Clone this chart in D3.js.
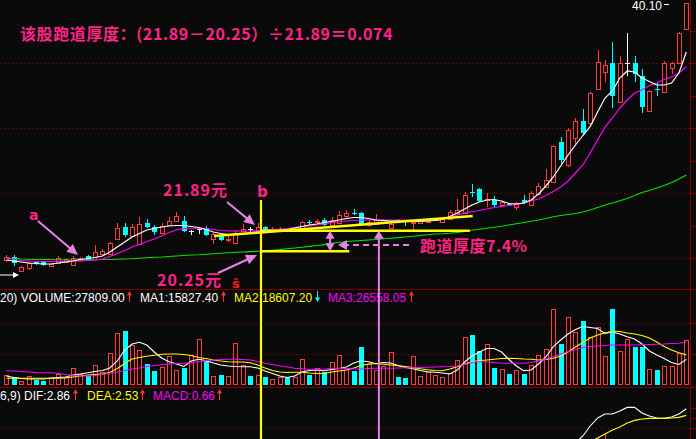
<!DOCTYPE html>
<html><head><meta charset="utf-8">
<script src="https://cdn.jsdelivr.net/npm/d3@7/dist/d3.min.js"></script>
<style>
html,body{margin:0;padding:0;background:#0a0a0a;overflow:hidden}
svg{display:block}
</style></head>
<body>
<svg id="chart" width="696" height="439"></svg>
<script>
// ---------------- data ----------------
const opens = [19.54,19.82,18.66,18.90,19.38,19.38,19.06,19.30,19.38,19.14,
19.62,19.86,19.78,20.02,20.02,21.22,22.18,21.46,20.86,22.50,
22.18,21.70,22.34,22.66,22.66,21.86,22.06,22.14,21.22,21.54,
21.18,20.90,21.82,22.02,21.78,22.18,21.96,22.00,21.96,21.86,
21.94,22.60,22.62,22.74,22.38,22.54,23.06,23.34,23.30,22.38,
22.42,22.58,22.14,22.70,22.68,22.56,22.50,22.66,22.76,22.62,
22.86,23.32,23.28,24.96,25.22,24.36,24.34,23.94,24.06,23.80,
24.34,23.94,24.82,25.40,25.80,29.00,27.14,29.32,30.66,30.48,
33.20,34.60,35.32,32.16,35.32,35.32,34.26,31.46,33.22,33.00,
34.88,35.28,38.00];
const highs = [19.94,19.94,19.06,19.38,19.46,19.46,19.30,19.86,19.70,19.86,
19.78,19.94,20.74,20.42,20.98,22.54,22.50,22.42,22.98,22.86,
22.34,22.54,23.02,23.38,23.06,21.98,22.22,22.26,21.78,21.62,
21.46,21.86,22.42,22.18,22.50,22.26,22.18,22.18,22.02,22.10,
22.66,22.78,22.86,22.90,23.02,23.46,23.54,23.62,23.42,22.74,
23.22,22.82,22.58,22.82,22.78,22.66,22.82,22.82,22.86,22.98,
23.54,24.46,25.00,25.62,25.34,24.90,24.66,24.26,24.10,24.20,
24.74,25.06,25.70,26.80,28.74,29.40,30.10,30.90,31.62,32.98,
36.34,35.54,37.00,35.86,37.72,35.86,34.82,33.14,33.80,35.46,
35.38,37.76,40.10];
const lows = [19.38,19.06,18.58,18.74,19.14,19.06,18.98,19.22,19.30,19.06,
19.46,19.50,19.70,19.94,19.94,21.14,21.38,21.38,20.82,22.10,
21.54,21.62,22.26,22.58,21.78,21.54,21.62,21.46,20.82,21.06,
20.98,20.82,21.78,21.78,21.70,21.78,21.82,21.86,21.78,21.78,
21.86,22.34,22.42,22.26,22.34,22.50,22.90,23.14,22.30,22.18,
22.38,22.50,22.10,22.50,22.26,21.82,22.42,22.50,22.66,22.58,
22.82,23.14,23.22,24.58,24.18,23.80,23.78,23.86,23.86,23.54,
24.02,23.90,24.78,25.38,25.78,27.14,27.01,28.66,29.54,30.26,
33.14,33.80,31.70,32.10,34.26,33.80,31.34,31.38,32.68,32.98,
34.42,35.22,37.94];
const closes = [19.78,19.26,18.98,19.30,19.22,19.10,19.22,19.70,19.62,19.70,
19.70,19.54,20.18,20.30,20.90,22.10,21.54,22.22,22.42,22.18,
21.78,22.30,22.66,23.10,21.86,21.86,22.06,21.54,21.62,21.14,
21.22,21.74,22.06,22.02,22.22,21.86,22.00,22.04,21.94,22.02,
22.58,22.58,22.66,22.34,22.78,23.14,23.30,23.32,22.34,22.62,
22.74,22.74,22.46,22.68,22.64,22.60,22.74,22.68,22.80,22.86,
23.42,23.58,24.74,24.94,24.26,24.40,23.94,24.18,23.94,24.12,
24.08,24.88,25.46,25.94,28.66,27.54,29.94,30.66,29.68,32.88,
35.40,35.14,32.68,35.32,35.32,34.42,31.80,33.08,33.20,35.32,
35.28,37.68,40.08];
const volumes = [6180,4760,2470,5560,3090,2660,4140,6800,4760,10320,
6800,5560,12360,8220,19960,32320,33560,24720,21630,12980,
8840,11310,17920,9270,10690,18540,28240,15020,5560,6180,
5560,25770,12360,5560,6180,4760,3520,4760,4760,4760,
15880,6180,10320,8220,14400,18540,10320,8840,23670,12980,
9270,11740,20210,4760,4140,17920,5560,8220,6180,4760,
7230,15450,29480,30900,21200,25340,10320,9700,6800,9270,
6800,12360,18540,22060,46780,25340,41840,32570,39550,29480,
35660,17920,46970,21010,28240,23670,23670,9890,9270,11740,
11740,19960,27809];
const ma5 = [19.54,19.46,19.38,19.30,19.26,19.22,19.22,19.30,19.38,19.46,
19.58,19.66,19.74,19.86,20.18,20.58,20.98,21.38,21.66,21.94,
22.06,22.18,22.26,22.30,22.30,22.22,22.14,21.98,21.78,21.66,
21.58,21.58,21.62,21.70,21.78,21.82,21.86,21.90,21.98,22.10,
22.22,22.34,22.42,22.54,22.62,22.74,22.86,22.94,22.94,22.86,
22.74,22.70,22.66,22.66,22.62,22.62,22.62,22.66,22.70,22.78,
23.02,23.30,23.62,23.94,24.18,24.34,24.38,24.26,24.06,24.02,
24.10,24.34,24.82,25.46,26.18,27.06,27.94,28.74,29.50,30.22,
31.38,32.50,33.06,34.10,34.66,34.58,34.10,33.82,33.54,33.54,
33.70,34.50,36.18];
const ma10 = [19.74,19.58,19.50,19.46,19.42,19.42,19.42,19.42,19.42,19.46,
19.46,19.50,19.54,19.62,19.82,20.06,20.30,20.58,20.78,21.02,
21.22,21.46,21.74,21.94,22.06,22.08,22.08,22.06,21.98,21.90,
21.86,21.86,21.86,21.86,21.90,21.94,21.98,22.02,22.06,22.14,
22.22,22.26,22.34,22.42,22.54,22.60,22.66,22.70,22.74,22.74,
22.74,22.74,22.74,22.74,22.74,22.74,22.74,22.74,22.74,22.78,
22.94,23.14,23.30,23.40,23.50,23.62,23.74,23.82,23.90,23.98,
24.10,24.26,24.42,24.70,25.02,25.38,25.86,26.50,27.14,28.10,
29.14,30.18,30.90,31.70,32.34,32.90,33.14,33.50,33.70,33.98,
34.18,34.50,35.00];
const ma60 = [19.68,19.66,19.62,19.60,19.58,19.58,19.58,19.56,19.54,19.54,
19.54,19.54,19.56,19.58,19.58,19.60,19.62,19.64,19.68,19.72,
19.76,19.78,19.82,19.86,19.90,19.94,19.96,20.00,20.04,20.08,
20.12,20.16,20.18,20.21,20.24,20.28,20.32,20.37,20.44,20.50,
20.56,20.63,20.70,20.77,20.88,20.94,21.02,21.06,21.10,21.14,
21.18,21.24,21.28,21.33,21.38,21.44,21.50,21.56,21.62,21.64,
21.68,21.74,21.82,21.92,22.00,22.08,22.16,22.24,22.34,22.44,
22.54,22.64,22.74,22.86,23.00,23.10,23.18,23.26,23.38,23.54,
23.74,23.94,24.10,24.28,24.46,24.70,24.94,25.10,25.30,25.50,
25.74,26.02,26.34];
const vma5 = [5560,4640,4020,3710,3710,3710,4330,4640,4940,6180,
6800,7600,8340,8960,10510,14830,21630,25340,26390,24720,
20390,16690,14400,12980,11430,14830,15880,15140,13600,12360,
11740,11430,11310,11310,10510,8650,7110,5560,4640,5560,
8030,8960,9270,8840,9580,10200,11120,13600,15020,14400,
13160,13910,13600,12050,10820,10070,8960,8220,7850,7420,
6800,9270,14210,17920,20390,22560,22560,20390,15760,11740,
8840,9270,12980,17300,23670,27810,31520,34300,36150,35540,
34920,31830,32750,31520,29850,28430,25340,21010,18540,16380,
13910,12670,15827.4];
const vma10 = [4140,4140,4140,4140,4140,4140,4140,4140,4330,4940,
5560,6180,6490,6800,7730,10200,13290,16070,17000,17740,
18420,18970,19160,19160,18850,18230,17000,16380,15450,14830,
14400,14210,14210,13780,12360,10510,8960,8030,7730,7850,
7910,7420,7110,7110,8030,8650,9270,10510,12050,12980,
13290,12790,12360,11930,11430,10820,10070,9460,8960,8840,
9890,11310,12980,14400,15140,15450,15940,16380,16500,16380,
16070,15880,15450,15760,16500,17920,20390,23480,26270,29050,
30900,32140,33370,33060,32140,31520,30590,29050,26570,23790,
21630,19960,18607.2];
const vma20 = [8840,8650,8340,8030,7730,7600,7600,7110,6490,5870,
5560,5560,5870,6490,7230,8030,8960,9890,10510,11430,
12050,12550,12980,13290,13410,13910,14400,15140,15450,15760,
15880,15880,15760,15450,14520,13410,12670,11740,11120,10320,
10010,9700,9700,9890,10200,10320,10200,9890,9890,10200,
10320,10320,10320,10510,10630,10690,10820,11000,11120,11310,
11430,11740,12670,13910,14400,14400,13910,13410,13410,13410,
13410,13910,14830,16070,17610,19160,20580,21940,23180,23790,
24100,24410,24720,24720,24720,24720,24840,25030,25150,25340,
25650,25830,26558.05];
const macdStart = 76;
const dif  = [0.80,1.15,1.50,2.00,2.40,2.60,2.60,2.75,2.93,2.93,2.65,2.50,2.40,2.38,2.45,2.60,2.86];
const dea  = [0.50,0.70,0.95,1.20,1.40,1.60,1.80,1.95,2.15,2.28,2.35,2.38,2.38,2.38,2.40,2.43,2.53];
const macd = [0.60,0.90,1.10,1.30,1.45,1.65,1.30,1.20,1.10,0.90,0.60,0.25,0.05,0.00,0.10,0.35,0.66];
const priceGrid = [19.70,24.90,30.10,35.30];
const priceTicks = [19.70,22.30,24.90,27.50,30.10,32.70,35.30,37.90];
const volGrid = [19300,38600];
const macdGrid = [1.9];
const macdTicks = [1.9,2.4,2.9];
const runwayTop = 21.89, runwayBottom = 20.25, highLabel = "40.10";
const titleText = "该股跑道厚度：(21.89－20.25）÷21.89＝0.074";
const volHeader = [["20) VOLUME:27809.00","#ffffff"],["MA1:15827.40","#ffffff"],["MA2:18607.20","#ffff00"],["MA3:26558.05","#ff00ff"]];
const volHeaderX = [0,140,234,328];
const volArrows = [[129,"up","#ff3030"],[223,"up","#ff3030"],[317,"down","#00ffff"],[411,"up","#ff3030"]];
const macdHeader = [["6,9) DIF:2.86","#ffffff"],["DEA:2.53","#ffff00"],["MACD:0.66","#ff00ff"]];
const macdHeaderX = [0,87,153];
const macdArrows = [[75,"up","#ff3030"],[142,"up","#ff3030"],[219,"up","#ff3030"]];

// ---------------- drawing ----------------
const svg = d3.select('#chart');
svg.append('rect').attr('width',696).attr('height',439).attr('fill','#0a0a0a');
const N = opens.length, idx = d3.range(N);
const x = d3.scaleLinear().domain([0, N-1]).range([6.4, 686.3]);
const y = d3.scaleLinear().domain([17.22, 40.34]).range([289, 0]);
const yv = d3.scaleLinear().domain([0, 50000]).range([385, 304.1]);
const ym = d3.scaleLinear().domain([0, 3]).range([466, 406]);
const RED='#ff3c3c', CYAN='#00ffff', WHITE='#ffffff', MAG='#ff00ff', YEL='#ffff00', GRN='#00e600', GRID='#a00000', AXIS='#800000';
const hp = v => Math.round(v)+0.5;

const g0 = svg.append('g').attr('shape-rendering','crispEdges');
function hdot(yy){ g0.append('line').attr('x1',0).attr('x2',689).attr('y1',hp(yy)).attr('y2',hp(yy)).attr('stroke',GRID).attr('stroke-dasharray','1,3'); }
priceGrid.forEach(v=>hdot(y(v)));
volGrid.forEach(v=>hdot(yv(v)));
macdGrid.forEach(v=>hdot(ym(v)));
[289,387].forEach(yy=>g0.append('line').attr('x1',0).attr('x2',696).attr('y1',yy+0.5).attr('y2',yy+0.5).attr('stroke',AXIS));
g0.append('line').attr('x1',690.5).attr('x2',690.5).attr('y1',0).attr('y2',439).attr('stroke',AXIS);
function ticks(scale, vals){
  const a = svg.append('g').attr('transform','translate(690.5,0)').attr('shape-rendering','crispEdges')
    .call(d3.axisRight(scale).tickValues(vals).tickFormat('').tickSize(5).tickSizeOuter(0));
  a.select('.domain').remove();
  a.selectAll('line').attr('stroke',AXIS);
}
ticks(y, priceTicks); ticks(yv, volGrid); ticks(ym, macdTicks);

// volume bars
const dir = i => closes[i]>opens[i]?1:(closes[i]<opens[i]?-1:0);
const volUp = i => dir(i)>0 || (dir(i)===0 && (i===0 || closes[i]>=closes[i-1]));
const gv = svg.append('g').attr('shape-rendering','crispEdges');
idx.forEach(i=>{
  const c = Math.round(x(i)), top = Math.round(yv(volumes[i])), base = Math.round(yv(0));
  if(volUp(i)) gv.append('rect').attr('x',c-2+0.5).attr('y',top+0.5).attr('width',4).attr('height',Math.max(base-top-1,1)).attr('fill','none').attr('stroke',RED);
  else gv.append('rect').attr('x',c-2).attr('y',top).attr('width',5).attr('height',base-top).attr('fill',CYAN);
});
const lineV = d3.line().x((d,i)=>x(i)).y(d=>yv(d));
[[vma5,WHITE],[vma10,YEL],[vma20,MAG]].forEach(([a,c])=>svg.append('path').attr('d',lineV(a)).attr('fill','none').attr('stroke',c).attr('stroke-width',1.1));

// MACD
const gm = svg.append('g').attr('shape-rendering','crispEdges');
macd.forEach((v,k)=>{ const c=Math.round(x(macdStart+k));
  gm.append('line').attr('x1',c+0.5).attr('x2',c+0.5).attr('y1',ym(0)).attr('y2',ym(v)).attr('stroke',v>=0?RED:CYAN); });
const lineM = d3.line().x((d,k)=>x(macdStart+k)).y(d=>ym(d));
svg.append('path').attr('d',lineM(dif)).attr('fill','none').attr('stroke',WHITE).attr('stroke-width',1.1);
svg.append('path').attr('d',lineM(dea)).attr('fill','none').attr('stroke',YEL).attr('stroke-width',1.1);

// candles
const gc = svg.append('g').attr('shape-rendering','crispEdges');
idx.forEach(i=>{
  const c = Math.round(x(i)), d = dir(i);
  const yH = Math.round(y(highs[i])), yL = Math.round(y(lows[i]));
  const yO = Math.round(y(opens[i])), yC = Math.round(y(closes[i]));
  if(d>0){
    gc.append('line').attr('x1',c+0.5).attr('x2',c+0.5).attr('y1',yH).attr('y2',yC).attr('stroke',RED);
    gc.append('line').attr('x1',c+0.5).attr('x2',c+0.5).attr('y1',yO).attr('y2',yL).attr('stroke',RED);
    gc.append('rect').attr('x',c-2+0.5).attr('y',yC+0.5).attr('width',4).attr('height',Math.max(yO-yC,1)).attr('fill','#0a0a0a').attr('stroke',RED);
  } else if(d<0){
    gc.append('line').attr('x1',c+0.5).attr('x2',c+0.5).attr('y1',yH).attr('y2',yL).attr('stroke',CYAN);
    gc.append('rect').attr('x',c-2).attr('y',yO).attr('width',5).attr('height',Math.max(yC-yO,1)).attr('fill',CYAN);
  } else {
    gc.append('line').attr('x1',c+0.5).attr('x2',c+0.5).attr('y1',yH).attr('y2',yL).attr('stroke',WHITE);
    gc.append('line').attr('x1',c-2).attr('x2',c+3).attr('y1',yO+0.5).attr('y2',yO+0.5).attr('stroke',WHITE);
  }
});
const lineP = d3.line().x((d,i)=>x(i)).y(d=>y(d));
[[ma60,GRN],[ma10,MAG],[ma5,WHITE]].forEach(([a,c])=>svg.append('path').attr('d',lineP(a)).attr('fill','none').attr('stroke',c).attr('stroke-width',1.2));

// header texts
const FONT = "'Liberation Sans', Arial, sans-serif";
function hArrow(ax, base, kind, color){
  const top = base-10.5, bot = base+0.5, cx = ax+0.5;
  const g = svg.append('g');
  if(kind==="up"){
    g.append('line').attr('x1',cx).attr('x2',cx).attr('y1',top+3).attr('y2',bot).attr('stroke',color).attr('stroke-width',1);
    g.append('path').attr('d',`M${cx},${top}L${cx-2.5},${top+4.5}L${cx+2.5},${top+4.5}Z`).attr('fill',color);
  } else {
    g.append('line').attr('x1',cx).attr('x2',cx).attr('y1',top).attr('y2',bot-3).attr('stroke',color).attr('stroke-width',1);
    g.append('path').attr('d',`M${cx},${bot}L${cx-2.5},${bot-4.5}L${cx+2.5},${bot-4.5}Z`).attr('fill',color);
  }
}
volHeader.forEach(([t,c],k)=>svg.append('text').attr('x',volHeaderX[k]).attr('y',301.5).attr('fill',c).attr('font-family',FONT).attr('font-size',12).text(t));
volArrows.forEach(([ax,kind,c])=>hArrow(ax,301.5,kind,c));
macdHeader.forEach(([t,c],k)=>svg.append('text').attr('x',macdHeaderX[k]).attr('y',399.5).attr('fill',c).attr('font-family',FONT).attr('font-size',12).text(t));
macdArrows.forEach(([ax,kind,c])=>hArrow(ax,399.5,kind,c));
svg.append('text').attr('x',632).attr('y',10).attr('fill',WHITE).attr('font-family',FONT).attr('font-size',12).text(highLabel);
svg.append('line').attr('x1',664).attr('x2',669).attr('y1',4.5).attr('y2',4.5).attr('stroke',WHITE);

// ---------------- annotations ----------------
const ANN='#e682e6', TXT='#ff2288', YLW='#ffff00';
const CJK = "'Noto Sans CJK SC', sans-serif";
const ga = svg.append('g');
const bIdx = 34.45, pinkIdx = 50.4, dblIdx = 43.8, upperEnd = 62.7, lowerEnd = 46.4;
ga.append('line').attr('x1',x(28.1)).attr('y1',y(21.46)).attr('x2',x(63.1)).attr('y2',y(23.06)).attr('stroke',YLW).attr('stroke-width',2.5);
ga.append('line').attr('x1',x(bIdx)).attr('y1',y(runwayTop)).attr('x2',x(upperEnd)).attr('y2',y(runwayTop)).attr('stroke',YLW).attr('stroke-width',2.5);
ga.append('line').attr('x1',x(bIdx)).attr('y1',y(runwayBottom)).attr('x2',x(lowerEnd)).attr('y2',y(runwayBottom)).attr('stroke',YLW).attr('stroke-width',2.5);
ga.append('line').attr('x1',x(bIdx)).attr('y1',200).attr('x2',x(bIdx)).attr('y2',439).attr('stroke',YLW).attr('stroke-width',2.2);

function head(tx,ty,ang,len,hw,color){
  const bx=tx-Math.cos(ang)*len, by=ty-Math.sin(ang)*len;
  const nx=-Math.sin(ang)*hw, ny=Math.cos(ang)*hw;
  ga.append('path').attr('d',`M${tx},${ty}L${bx+nx},${by+ny}L${bx-nx},${by-ny}Z`).attr('fill',color);
}
function arrow(x1,y1,x2,y2,o={}){
  const color=o.color||ANN, w=o.w||2, len=o.len||10, hw=o.hw||4.5;
  const ang=Math.atan2(y2-y1,x2-x1), ca=Math.cos(ang), sa=Math.sin(ang);
  let sx=x1, sy=y1; const ex=x2-ca*len*0.7, ey=y2-sa*len*0.7;
  if(o.both){ sx=x1+ca*len*0.7; sy=y1+sa*len*0.7; }
  const l=ga.append('line').attr('x1',sx).attr('y1',sy).attr('x2',ex).attr('y2',ey).attr('stroke',color).attr('stroke-width',w);
  if(o.dash) l.attr('stroke-dasharray',o.dash);
  head(x2,y2,ang,len,hw,color);
  if(o.both) head(x1,y1,ang+Math.PI,len,hw,color);
}
arrow(38,221,78,255,{len:11,hw:5});
arrow(227,202,255,225,{len:11,hw:5});
arrow(218,273,257,255,{len:11,hw:5});
arrow(x(dblIdx),y(runwayBottom),x(dblIdx),y(runwayTop),{both:true,len:8,hw:4.5});
arrow(409,245,338,245,{dash:'6,4',len:9,hw:5});
arrow(x(pinkIdx),439,x(pinkIdx),y(runwayTop),{len:8,hw:5});
arrow(0,275,19,275,{color:WHITE,w:1,len:6,hw:3});

function label(t,xx,yy,o={}){
  return ga.append('text').attr('x',xx).attr('y',yy).attr('fill',o.color||TXT).attr('font-family',o.font||CJK)
    .attr('font-size',o.size||16).attr('font-weight','bold').attr('letter-spacing',o.ls||0).text(t);
}
label(titleText,20,40,{ls:0.6});
label("21.89元",163,196,{ls:1});
label("20.25元",157,286,{ls:1});
label("b",257,197,{size:15,font:"'DejaVu Sans', sans-serif"});
label("a",29,220,{size:14,font:"'DejaVu Sans', sans-serif"});
label("ŝ",232,288,{size:13,color:'#ff2020',font:"'DejaVu Sans', sans-serif"});
label("跑道厚度7.4%",420,252,{ls:0.5});
</script>
</body></html>
